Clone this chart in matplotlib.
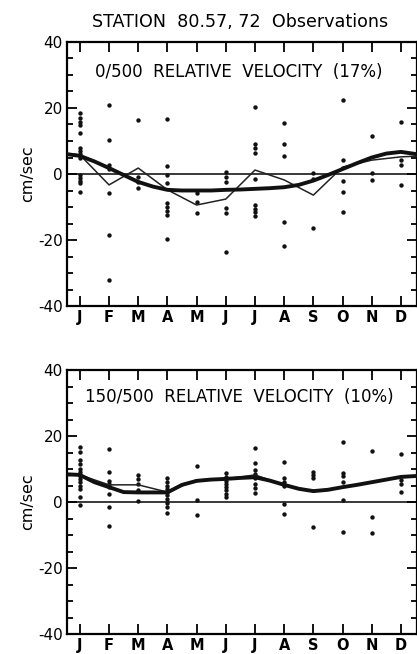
import numpy as np
import matplotlib
matplotlib.use("Agg")
import matplotlib.pyplot as plt
from matplotlib.ticker import MultipleLocator

months = ["J", "F", "M", "A", "M", "J", "J", "A", "S", "O", "N", "D"]

# 0/500 relative velocity - individual observations per month (cm/sec)
obs_top = [
    [18.5, 17, 15.8, 14.8, 12.4, 8, 7, 6, 5, -0.3, -1.2, -2.1, -2.7, -5.5],
    [20.8, 10.3, 2.7, 1.5, -5.8, -18.5, -32],
    [16.5, -1, -2.5, -4.2],
    [16.6, 2.4, -0.3, -2.7, -8.8, -10, -11.2, -12.4, -19.7],
    [-5.8, -8.5, -11.8],
    [0.5, -0.9, -2.4, -10.3, -11.8, -23.6],
    [20.3, 9, 8, 6.4, -1.5, -9.4, -10.6, -11.5, -12.7],
    [15.5, 9, 5.5, -14.5, -21.8],
    [0.3, -1.5, -16.5],
    [22.4, 4.2, -2.1, -5.5, -11.5],
    [11.5, 0.3, -1.8],
    [15.8, 4.2, 2.7, -3.3],
]
# monthly means (thin line), with the wrap-around ends at the plot edges
mean_x = [0.56, 1, 2, 3, 4, 5, 6, 7, 8, 9, 10, 11, 12, 12.55]
mean_top = [6.2, 5.8, -3.3, 1.8, -4.8, -9.4, -7.6, 1.2, -1.8, -6.4, 2.1, 4.2, 5.2, 5.4]
# harmonic fit (thick line)
fit_x = [0.56, 1, 1.5, 2, 2.5, 3, 3.5, 4, 4.5, 5, 5.5, 6, 6.5, 7, 7.5, 8,
         8.5, 9, 9.5, 10, 10.5, 11, 11.5, 12, 12.55]
fit_top = [6, 5.5, 3.8, 1.8, -0.3, -2.4, -3.8, -4.8, -5, -5, -5, -4.8, -4.7,
           -4.5, -4.3, -4, -3.3, -2, -0.3, 1.5, 3.3, 5, 6.2, 6.7, 6]

# 150/500 relative velocity
obs_bot = [
    [16.7, 15.2, 12.7, 11.5, 10, 9, 8, 7, 6, 5, 4, 1.5, -0.9],
    [16, 9, 6.5, 5.5, 4.5, 2.5, -1.5, -7.2],
    [8.2, 7, 5.5, 3.5, 0.3],
    [7.3, 6, 5, 4, 3, 2, 1, -0.3, -1.5, -3.3],
    [11, 0.5, -3.9],
    [8.8, 7.5, 6.5, 5.5, 4.5, 3.5, 2.5, 1.5],
    [16.4, 11.8, 9.7, 8.5, 7.3, 5.5, 4.2, 2.7],
    [12.1, 7.3, 6, 5, -0.6, -3.5],
    [9.1, 8.2, 7.3, -7.6],
    [18.2, 8.8, 7.9, 6, 0.6, -9.1],
    [15.5, -4.5, -9.4],
    [14.5, 6.7, 5.5, 3],
]
mean_bot = [8.0, 8.2, 5.2, 5.2, 3, 6.7, 7, 8.2, 5.2, 3.3, 4.5, 6, 7.6, 7.9]
fit_bot = [8.4, 8.2, 6, 4.5, 3, 2.9, 2.9, 2.9, 5.2, 6.4, 6.8, 7, 7.3, 7.5,
           6.5, 5.2, 4, 3.3, 3.7, 4.5, 5.2, 6, 6.8, 7.6, 7.9]

subtitles = ["0/500  RELATIVE  VELOCITY  (17%)", "150/500  RELATIVE  VELOCITY  (10%)"]

plt.rcParams['font.family'] = 'DejaVu Sans'
fig = plt.figure(figsize=(4.17, 6.54), dpi=100)
ax1 = fig.add_axes([67 / 417, 1 - 306 / 654, 350 / 417, 264 / 654])
ax2 = fig.add_axes([67 / 417, 1 - 634 / 654, 350 / 417, 264 / 654])

mx = np.arange(1, 13)
panels = [(ax1, obs_top, mean_top, fit_top, subtitles[0], 31, 12.0),
          (ax2, obs_bot, mean_bot, fit_bot, subtitles[1], 31.8, 12.0)]
for ax, obs, mean, fit, sub, sub_y, sub_fs in panels:
    xs = np.concatenate([[m] * len(v) for m, v in zip(mx, obs)])
    ys = np.concatenate(obs)
    ax.scatter(xs, ys, s=10, color='#111111', zorder=3, linewidths=0)
    ax.axhline(0, color='#2a2a2a', lw=1.3, zorder=1)
    ax.plot(mean_x, mean, color='#222222', lw=1.1, zorder=4)
    ax.plot(fit_x, fit, color='#111111', lw=2.8, zorder=5)
    ax.set_xlim(0.56, 12.55)
    ax.set_ylim(-40, 40)
    ax.set_xticks(mx)
    ax.set_xticklabels(months, fontsize=10.5, fontweight='bold')
    ax.set_yticks([-40, -20, 0, 20, 40])
    ax.set_yticklabels(["-40", "-20", "0", "20", "40"], fontsize=11)
    ax.yaxis.set_minor_locator(MultipleLocator(5))
    ax.tick_params(axis='both', which='major', direction='in', length=7,
                   width=1.3, top=True, right=True, pad=3)
    ax.tick_params(axis='y', which='minor', direction='in', length=4.5,
                   width=1.3, right=True)
    for s in ax.spines.values():
        s.set_linewidth(1.6)
    ax.set_ylabel("cm/sec", fontsize=11.5, labelpad=2)
    ax.text(6.45, sub_y, sub, ha='center', va='center', fontsize=sub_fs)

fig.text(0.576, 1 - 22 / 654, "STATION  80.57, 72  Observations",
         ha='center', va='center', fontsize=12.6)

fig.savefig("out.png", dpi=100)
